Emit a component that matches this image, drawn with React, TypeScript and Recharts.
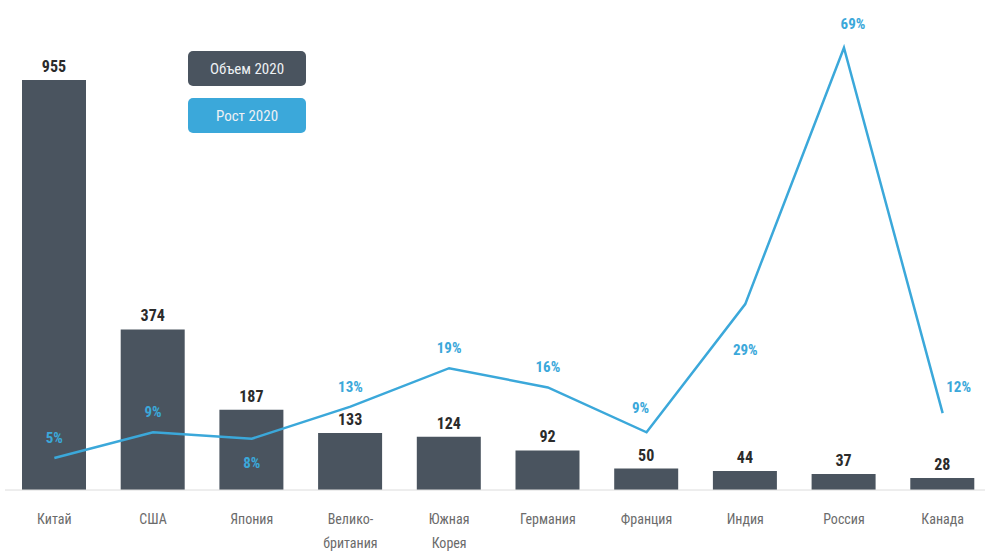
import { ComposedChart, Bar, Line, XAxis, YAxis, LabelList } from 'recharts'

const countries = ['Китай', 'США', 'Япония', 'Велико-\nбритания', 'Южная\nКорея', 'Германия', 'Франция', 'Индия', 'Россия', 'Канада']
const volume2020 = [955, 374, 187, 133, 124, 92, 50, 44, 37, 28]
const growth2020 = [5, 9, 8, 13, 19, 16, 9, 29, 69, 12]
const seriesNames = ['Объем 2020', 'Рост 2020']

const BAR_COLOR = '#4a545f'
const LINE_COLOR = '#3ba8da'
const FONT = '"Liberation Sans Narrow", "Roboto Condensed", Roboto, sans-serif'

// where the % label sits relative to its point
const pctShift: Record<string, [number, number]> = {
    'Япония': [0, 24],
    'Индия': [0, 46],
    'Франция': [-6, -24],
    'Россия': [9, -24],
    'Канада': [16, -26],
}

const data = countries.map((name, i) => ({
    name,
    volume: volume2020[i],
    growth: growth2020[i],
}))

function CountryTick({ x, y, payload }: any) {
    const lines = String(payload.value).split('\n')
    return (
        <text x={x} y={y + 26} textAnchor="middle" fill="#6b6b6b" fontSize={14} fontFamily={FONT}>
            {lines.map((l, i) => (
                <tspan key={i} x={x} dy={i === 0 ? 0 : 24}>{l}</tspan>
            ))}
        </text>
    )
}

function PctLabel({ x, y, value, index }: any) {
    const shift = pctShift[countries[index]] ?? [0, -20]
    return (
        <text
            x={x + shift[0]}
            y={y + shift[1]}
            dy={5}
            textAnchor="middle"
            fill={LINE_COLOR}
            fontSize={15}
            fontWeight="bold"
            fontFamily={FONT}
        >
            {value}%
        </text>
    )
}

function LegendBoxes() {
    const colors = [BAR_COLOR, LINE_COLOR]
    return (
        <div style={{ position: 'absolute', left: 188, top: 51, width: 118 }}>
            {seriesNames.map((label, i) => (
                <div
                    key={label}
                    style={{
                        height: 35,
                        borderRadius: 5,
                        background: colors[i],
                        color: '#eef1f4',
                        fontFamily: FONT,
                        fontSize: 15,
                        display: 'flex',
                        alignItems: 'center',
                        justifyContent: 'center',
                        marginBottom: 12,
                    }}
                >
                    {label}
                </div>
            ))}
        </div>
    )
}

export default function App() {
    return (
        <div style={{ position: 'absolute', left: 0, top: 0, width: 985, height: 552, overflow: 'hidden', background: '#fff' }}>
            <ComposedChart
                width={985}
                height={552}
                data={data}
                margin={{ top: 40, right: -7, bottom: 0, left: 5 }}
            >
                <XAxis
                    dataKey="name"
                    height={62}
                    interval={0}
                    tickLine={false}
                    axisLine={{ stroke: '#dcdcdc' }}
                    tick={<CountryTick />}
                />
                <YAxis yAxisId="vol" hide domain={[0, 1048]} />
                <YAxis yAxisId="pct" hide domain={[0, 70.2]} orientation="right" />
                <Bar yAxisId="vol" dataKey="volume" name={seriesNames[0]} fill={BAR_COLOR} barSize={64} isAnimationActive={false}>
                    <LabelList
                        dataKey="volume"
                        position="top"
                        offset={8}
                        fill="#2b2b2b"
                        fontSize={16}
                        fontWeight="bold"
                        fontFamily={FONT}
                    />
                </Bar>
                <Line
                    yAxisId="pct"
                    dataKey="growth"
                    name={seriesNames[1]}
                    stroke={LINE_COLOR}
                    strokeWidth={2.5}
                    dot={false}
                    activeDot={false}
                    isAnimationActive={false}
                >
                    <LabelList dataKey="growth" content={<PctLabel />} />
                </Line>
            </ComposedChart>
            <LegendBoxes />
        </div>
    )
}
